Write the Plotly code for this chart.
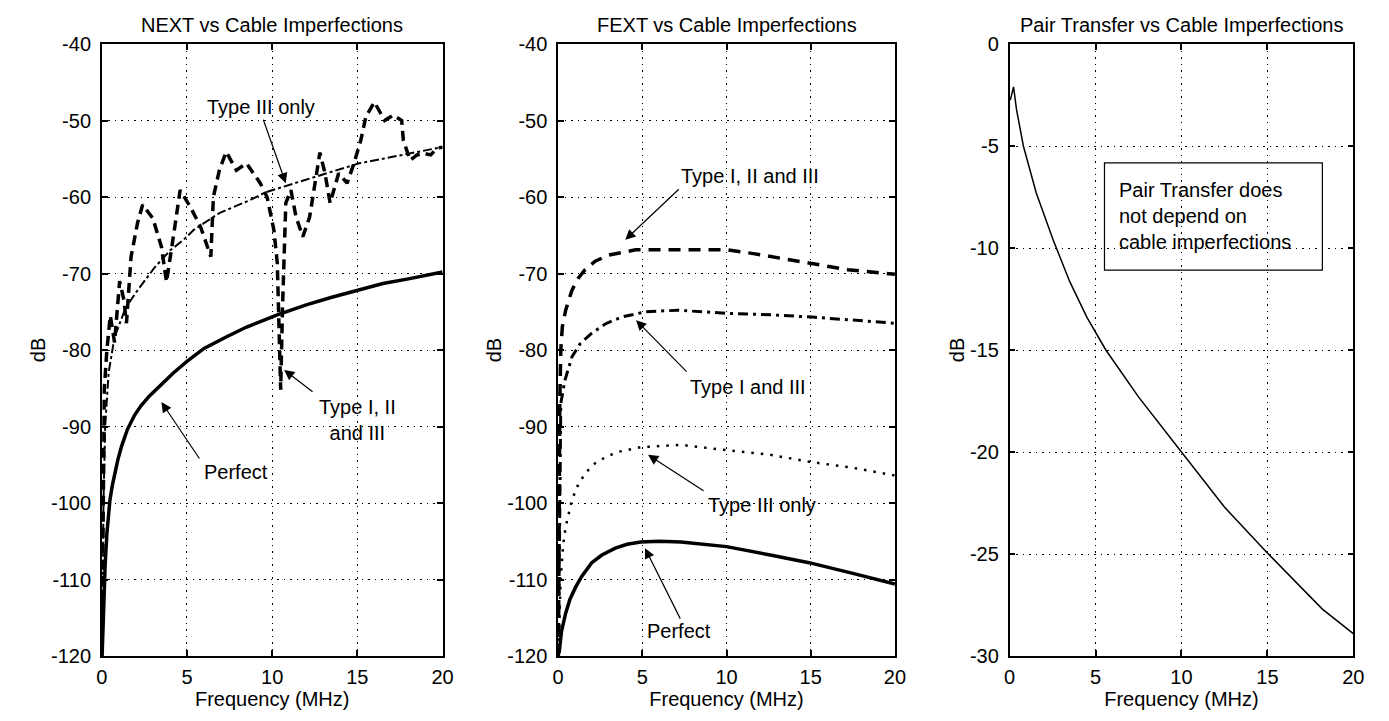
import plotly.graph_objects as go

# ---------------- data ----------------
# NEXT panel
next_perfect_x = [0.02, 0.1, 0.2, 0.3, 0.48, 0.62, 0.77, 0.95, 1.16, 1.5, 1.93, 2.3, 2.8, 3.46, 4.2, 5.0,
                  6.0, 7.3, 8.5, 10.3, 12, 13.5, 15.1, 16.5, 18, 19, 20]
next_perfect_y = [-120, -113, -108, -104, -99.6, -97.7, -96.1, -94.3, -92.6, -90.4, -88.5, -87.3, -86.0,
                  -84.6, -83, -81.5, -79.8, -78.3, -77, -75.4, -74.1, -73.1, -72.2, -71.3, -70.7, -70.2,
                  -69.8]

next_t3_x = [0.02, 0.1, 0.2, 0.4, 0.75, 1.4, 2.0, 3.07, 4.0, 4.8, 5.4, 6.9, 8.7, 9.6, 11.6, 13, 15.1,
             16.5, 18, 19.7, 20]
next_t3_y = [-118, -100, -90, -83, -78.3, -74.5, -72.5, -69.3, -67, -65.6, -64.3, -62.1, -60.4, -59.4,
             -58, -57, -55.6, -55, -54.3, -53.6, -53.5]

next_all_x = [0.03, 0.08, 0.15, 0.3, 0.5, 0.75, 0.95, 1.05, 1.3, 1.45, 1.72, 2.1, 2.4, 2.7, 3.0, 3.5,
              3.8, 4.2, 4.4, 4.6, 5.2, 5.8, 6.4, 6.55, 6.9, 7.3, 7.9, 8.5, 9.3, 9.7, 10.1, 10.3, 10.5,
              10.6, 10.8, 11.1, 11.4, 11.8, 12.2, 12.8, 13.1, 13.4, 13.9, 14.4, 14.8, 15.2, 15.5, 16.0,
              16.6, 17.1, 17.6, 17.7, 18.1, 18.5, 18.9, 19.3, 19.7, 20]
next_all_y = [-115, -100, -85, -80, -75.5, -79, -73, -71, -73.5, -76.5, -67.8, -63.4, -61, -62, -62.8,
              -66.5, -71.1, -65.2, -61.7, -59.1, -61.3, -63.9, -67.8, -60, -56.5, -54.1, -56.5, -55.6,
              -58.2, -60, -64.3, -68.6, -85.2, -75, -60.8, -59.1, -62.6, -65.2, -62.6, -54.2, -56.9,
              -60.8, -56.9, -58.2, -55.6, -52.6, -49.5, -47.6, -50, -49.3, -50, -52.6, -55.2, -54.5,
              -54.3, -54.5, -53.6, -53.5]

# FEXT panel
fext_all_x = [0.02, 0.06, 0.1, 0.16, 0.25, 0.45, 0.82, 1.2, 1.6, 2.2, 3.0, 4.6, 7.5, 10, 11.6, 14.5,
              17.2, 20]
fext_all_y = [-120, -100, -87, -80, -77, -74.8, -72.2, -70.6, -69.5, -68.4, -67.6, -66.9, -66.9, -66.9,
              -67.4, -68.5, -69.5, -70.1]

fext_13_x = [0.02, 0.08, 0.16, 0.4, 0.82, 1.3, 2.0, 2.8, 3.75, 5.2, 7.1, 10, 12.6, 15.1, 20]
fext_13_y = [-120, -100, -87, -84, -80.9, -79.2, -77.8, -76.6, -75.7, -75, -74.8, -75.2, -75.4, -75.7,
             -76.5]

fext_t3_x = [0.02, 0.15, 0.3, 0.45, 0.82, 1.23, 1.7, 2.2, 2.9, 3.6, 4.9, 7.3, 10, 12.6, 14.9, 17.5, 20]
fext_t3_y = [-120, -110, -105.5, -103.1, -99.6, -97.4, -95.9, -94.8, -93.9, -93.3, -92.7, -92.4, -93.1,
             -93.7, -94.6, -95.4, -96.4]

fext_perfect_x = [0.06, 0.2, 0.45, 0.7, 1.04, 1.4, 2.0, 2.6, 3.4, 4.1, 4.9, 6.0, 7.3, 10, 12.6, 14.9,
                  17.5, 20]
fext_perfect_y = [-119.6, -116.8, -114.4, -112.6, -111, -109.6, -107.8, -106.8, -105.9, -105.4, -105.1,
                  -105.0, -105.1, -105.7, -106.8, -107.8, -109.2, -110.6]

# Pair transfer panel
pt_x = [0.04, 0.23, 0.4, 0.8, 1.55, 2.53, 3.5, 4.5, 5.6, 7.5, 10, 12.5, 15, 18.2, 20]
pt_y = [-2.75, -2.1, -3.2, -5.0, -7.3, -9.6, -11.65, -13.4, -15, -17.3, -20, -22.7, -24.95, -27.7, -28.9]

x_ticks = [0, 5, 10, 15, 20]
db_ticks = [-120, -110, -100, -90, -80, -70, -60, -50, -40]
db_tick_labels = ["-120", "-110", "-100", "-90", "-80", "-70", "-60", "-50", "-40"]
pt_ticks = [-30, -25, -20, -15, -10, -5, 0]
pt_tick_labels = ["-30", "-25", "-20", "-15", "-10", "-5", "0"]

titles = ["NEXT vs Cable Imperfections", "FEXT vs Cable Imperfections",
          "Pair Transfer vs Cable Imperfections"]

# ---------------- figure ----------------
FONT = "Liberation Sans, Arial, sans-serif"
FS = 20
fig = go.Figure()

def line(x, y, xa, ya, width, dash="solid"):
    fig.add_trace(go.Scatter(x=x, y=y, xaxis=xa, yaxis=ya, mode="lines",
                             line=dict(color="black", width=width, dash=dash),
                             showlegend=False, hoverinfo="skip"))

line(next_perfect_x, next_perfect_y, "x", "y", 3.5)
line(next_t3_x, next_t3_y, "x", "y", 2, "dashdot")
line(next_all_x, next_all_y, "x", "y", 3.5, "10px,6px")

line(fext_all_x, fext_all_y, "x2", "y2", 3.5, "12px,8px")
line(fext_13_x, fext_13_y, "x2", "y2", 3, "10px,5px,3px,5px")
line(fext_t3_x, fext_t3_y, "x2", "y2", 2.5, "2.5px,7px")
line(fext_perfect_x, fext_perfect_y, "x2", "y2", 3.5)

line(pt_x, pt_y, "x3", "y3", 1.5)

axis_common = dict(
    showline=True, linecolor="black", linewidth=1.5, mirror="ticks",
    ticks="inside", ticklen=6, tickcolor="black", tickwidth=1.5,
    showgrid=True, gridcolor="black", gridwidth=1, griddash="1.5px,5px",
    zeroline=False, tickfont=dict(family=FONT, size=FS, color="black"),
)

domains = [[0.0698, 0.3182], [0.4024, 0.6479], [0.7315, 0.9820]]
layout = dict(
    width=1389, height=721,
    margin=dict(l=0, r=0, t=44, b=65),
    paper_bgcolor="white", plot_bgcolor="white",
    font=dict(family=FONT, size=FS, color="black"),
)
for i, (dom, yt, ytt, yr) in enumerate(zip(domains,
                                           [db_ticks, db_ticks, pt_ticks],
                                           [db_tick_labels, db_tick_labels, pt_tick_labels],
                                           [[-120, -40], [-120, -40], [-30, 0]])):
    sx = "" if i == 0 else str(i + 1)
    layout["xaxis" + sx] = dict(axis_common, domain=dom, range=[0, 20], tickvals=x_ticks,
                                anchor="y" + sx, ticklabelstandoff=2,
                                title=dict(text="Frequency (MHz)", standoff=4,
                                           font=dict(family=FONT, size=FS)))
    layout["yaxis" + sx] = dict(axis_common, domain=[0, 1], range=yr, tickvals=yt, ticktext=ytt,
                                anchor="x" + sx, ticklabelstandoff=5,
                                title=dict(text="dB", standoff=0,
                                           font=dict(family=FONT, size=FS)))
fig.update_layout(**layout)

# subplot titles
for i, t in enumerate(titles):
    sx = "" if i == 0 else str(i + 1)
    fig.add_annotation(text=t, xref="x" + sx + " domain", yref="y" + sx + " domain",
                       x=0.5, y=1, yanchor="bottom", yshift=6, showarrow=False,
                       font=dict(family=FONT, size=FS))

def arrow(xa, ya, x, y, ax, ay):
    fig.add_annotation(text="", xref=xa, yref=ya, x=x, y=y, ax=ax, ay=ay,
                       showarrow=True, arrowhead=2, arrowsize=1.7, arrowwidth=1.2,
                       arrowcolor="black")

def label(xa, ya, x, y, text):
    fig.add_annotation(text=text, xref=xa, yref=ya, x=x, y=y, showarrow=False,
                       font=dict(family=FONT, size=FS), align="center")

# NEXT annotations
arrow("x", "y", 10.8, -58.2, -23, -65)
label("x", "y", 9.33, -48.2, "Type III only")
arrow("x", "y", 10.7, -82.6, 30, 23)
label("x", "y", 15.0, -89.1, "Type I, II<br>and III")
arrow("x", "y", 3.5, -86.8, 39, 58)
label("x", "y", 7.88, -95.9, "Perfect")

# FEXT annotations
arrow("x2", "y2", 3.99, -65.6, 55, -52)
label("x2", "y2", 11.4, -57.3, "Type I, II and III")
arrow("x2", "y2", 4.63, -76.1, 52, 53)
label("x2", "y2", 11.3, -84.8, "Type I and III")
arrow("x2", "y2", 5.34, -93.7, 57, 37)
label("x2", "y2", 12.1, -100.3, "Type III only")
arrow("x2", "y2", 5.16, -105.9, 36, 72)
label("x2", "y2", 7.16, -116.7, "Perfect")

# Pair transfer text box
fig.add_shape(type="rect", xref="x3", yref="y3", x0=5.52, x1=18.2, y0=-11.08, y1=-5.83,
              line=dict(color="black", width=1.2), fillcolor="rgba(0,0,0,0)")
fig.add_annotation(text="Pair Transfer does<br>not depend on<br>cable imperfections",
                   xref="x3", yref="y3", x=6.26, y=-8.45, xanchor="left", showarrow=False,
                   align="left", font=dict(family=FONT, size=FS))

fig.write_html("out.html")
